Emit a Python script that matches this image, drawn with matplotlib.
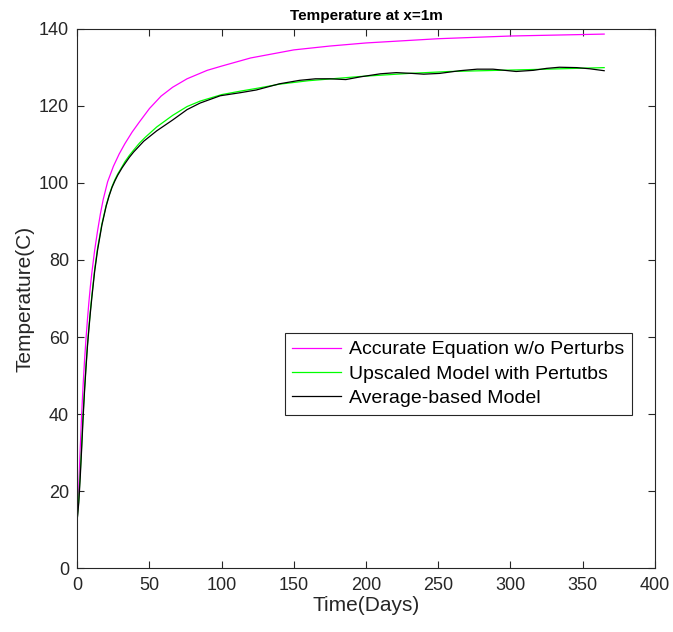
import matplotlib
matplotlib.use('Agg')
import matplotlib.pyplot as plt

# accurate equation (magenta)
t_acc = [0, 1, 2, 3, 4, 5, 6, 7, 8, 9, 10, 12, 14, 16, 18, 21, 25, 29, 33, 38, 43,
         50, 58, 66, 76, 90, 100, 120, 150, 175, 200, 250, 300, 365]
T_acc = [13, 21, 31, 40, 47.5, 54, 59.5, 64.5, 69, 73, 76.5, 82.5, 87.5, 92, 95.8,
         100.3, 104.3, 107.5, 110.2, 113.2, 115.8, 119.3, 122.5, 124.8, 127, 129.2,
         130.3, 132.4, 134.5, 135.5, 136.3, 137.4, 138.1, 138.6]

# upscaled model (green)
t_up = [0, 1, 2, 3, 4, 5, 6, 7, 8, 9, 10, 12, 14, 17, 20, 22, 24, 26, 28, 31, 33,
        36, 39, 43, 47, 55, 66, 76, 85, 100, 113, 124, 140, 160, 196, 230, 258, 304,
        335, 365]
T_up = [13, 18, 24.5, 32, 40, 46.5, 52.5, 58, 62.5, 66.7, 70.5, 77.5, 83, 89.3,
        94.2, 96.8, 99, 100.8, 102.3, 104.2, 105.5, 107.1, 108.5, 110.3, 111.8, 114.5,
        117.5, 119.8, 121.2, 122.9, 123.8, 124.5, 125.6, 126.5, 127.6, 128.4, 128.9,
        129.3, 129.6, 129.9]

# average-based model (black)
t_avg = [0, 1, 2, 3, 4, 5, 6, 7, 8, 9, 10, 12, 14, 17, 20, 22, 24, 26, 28, 31, 33,
         36, 39, 46, 55, 66, 76, 85, 99, 113, 124, 140, 154, 165, 175, 186, 196, 210,
         221, 232, 240, 251, 265, 277, 288, 296, 304, 316, 325, 334, 346, 355, 365]
T_avg = [13, 17, 23.5, 31, 39, 46, 52, 57.5, 62, 66.2, 70, 77, 82.5, 89, 94, 96.6,
         98.8, 100.5, 102, 103.9, 105, 106.6, 108, 110.8, 113.5, 116.3, 119, 120.7,
         122.6, 123.4, 124.1, 125.7, 126.6, 127, 127, 126.8, 127.5, 128.3, 128.6,
         128.4, 128.2, 128.4, 129.1, 129.5, 129.5, 129.2, 128.9, 129.2, 129.7, 130,
         129.9, 129.6, 129.1]

plt.rcParams['font.family'] = ['Liberation Sans', 'DejaVu Sans']
dark = '#262626'

fig = plt.figure(figsize=(6.73, 6.32), dpi=100)
ax = fig.add_axes([0.1149, 0.1008, 0.8579, 0.8538])

ax.plot(t_acc, T_acc, color='#FF00FF', lw=0.9, label='Accurate Equation w/o Perturbs')
ax.plot(t_up, T_up, color='#00FF00', lw=0.9, label='Upscaled Model with Pertutbs')
ax.plot(t_avg, T_avg, color='black', lw=0.9, label='Average-based Model')

ax.set_xlim(0, 400)
ax.set_ylim(0, 140)
ax.set_xticks(range(0, 401, 50))
ax.set_yticks(range(0, 141, 20))
ax.tick_params(direction='in', top=True, right=True, labelsize=13, colors=dark,
               length=5, width=0.8, pad=6)
for s in ax.spines.values():
    s.set_color(dark)
    s.set_linewidth(0.8)

ax.set_title('Temperature at x=1m', fontsize=11, fontweight='bold', color='black', pad=6)
ax.set_xlabel('Time(Days)', fontsize=15, color=dark, labelpad=2)
ax.set_ylabel('Temperature(C)', fontsize=15, color=dark, labelpad=3)

leg = ax.legend(loc='upper left', bbox_to_anchor=(0.359, 0.436), fontsize=14,
                fancybox=False, framealpha=1, edgecolor=dark, handlelength=2.5,
                borderpad=0.4, labelspacing=0.35, handletextpad=0.4, borderaxespad=0)
leg.get_frame().set_linewidth(0.8)

fig.savefig('out.png', dpi=100)
